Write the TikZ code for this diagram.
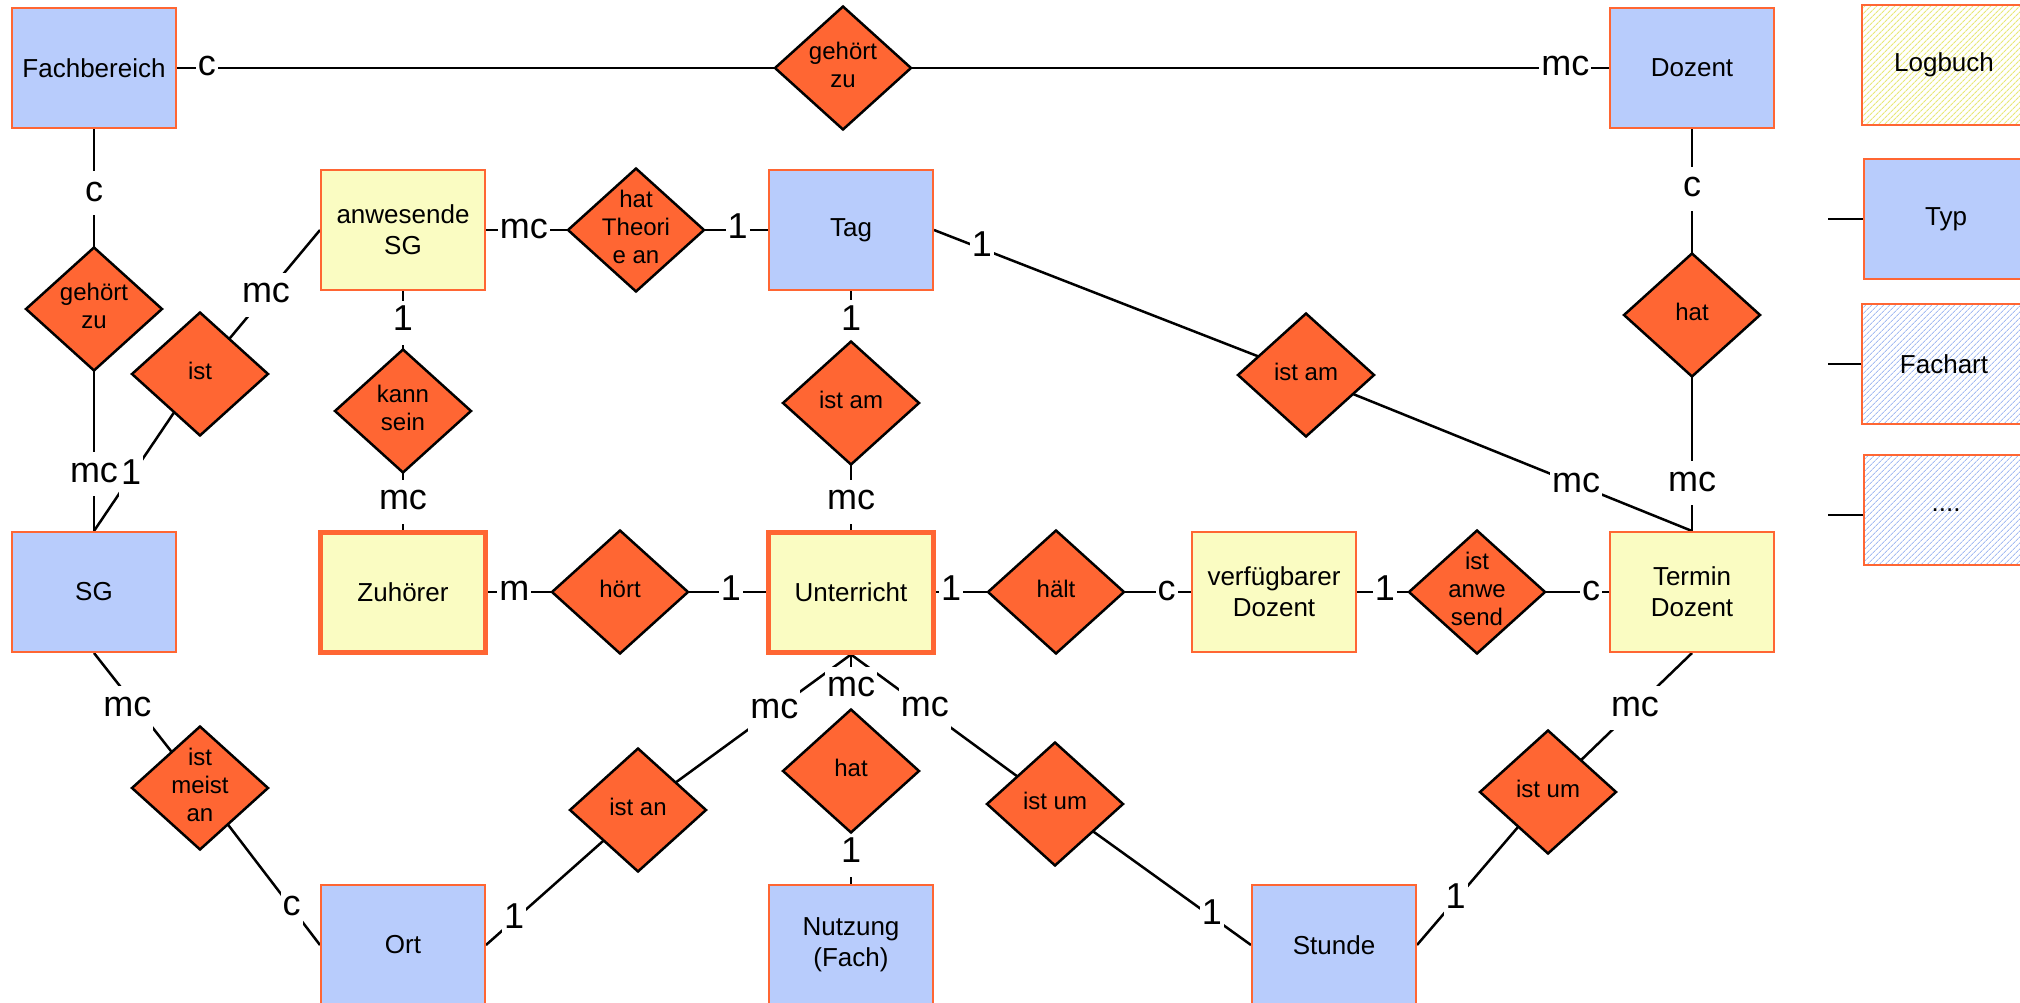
\documentclass[tikz,border=0pt]{standalone}
\usepackage{fontspec}
\setmainfont{Liberation Sans}
\usetikzlibrary{shapes.geometric,patterns.meta}
\definecolor{entblue}{RGB}{184,204,252}
\definecolor{entyellow}{RGB}{250,252,194}
\definecolor{orng}{RGB}{255,102,51}
\definecolor{hatchblue}{RGB}{165,188,242}
\definecolor{hatchyellow}{RGB}{232,232,120}
\pgfdeclarelayer{bg}
\pgfsetlayers{bg,main}
\newcommand{\dtext}[1]{\smash{\raisebox{-0.27em}{\begin{tabular}{@{}c@{}}#1\end{tabular}}}}
\begin{document}
\begin{tikzpicture}[x=1pt,y=-1pt,
  ent/.style={rectangle, draw=orng, line width=2pt, minimum width=164pt, minimum height=120pt, inner sep=2pt, align=center, font=\fontsize{26}{31}\selectfont},
  eblue/.style={ent, fill=entblue},
  eyel/.style={ent, fill=entyellow},
  heavy/.style={line width=5pt, minimum width=165pt, minimum height=120pt},
  hatchy/.style={ent, pattern={Lines[angle=45,distance=4pt,line width=1.1pt]}, pattern color=hatchyellow},
  hatchb/.style={ent, pattern={Lines[angle=45,distance=4pt,line width=1pt]}, pattern color=hatchblue},
  rel/.style={diamond, draw=black, line width=2.5pt, fill=orng, minimum width=137pt, minimum height=124pt, inner sep=0pt, font=\fontsize{24}{28}\selectfont},
  conn/.style={line width=2.5pt, draw=black},
  lab/.style={fill=white, inner xsep=2pt, inner ysep=5pt, text height=25pt, text depth=9pt, font=\fontsize{36}{40}\selectfont},
]
\useasboundingbox (0,0) rectangle (2020,1003);
\clip (0,0) rectangle (2020,1003);

% entities
\node[eblue] (fach) at (94,68) {Fachbereich};
\node[eblue] (doz) at (1692,68) {Dozent};
\node[eyel] (anw) at (403,230) {anwesende\\SG};
\node[eblue] (tag) at (851,230) {Tag};
\node[eblue] (sg) at (94,592) {SG};
\node[eyel,heavy] (zuh) at (403,592) {Zuhörer};
\node[eyel,heavy] (unt) at (851,592) {Unterricht};
\node[eyel] (vdoz) at (1274,592) {verfügbarer\\Dozent};
\node[eyel] (tdoz) at (1692,592) {Termin\\Dozent};
\node[eblue] (ort) at (403,945) {Ort};
\node[eblue] (nutz) at (851,945) {Nutzung\\(Fach)};
\node[eblue] (std) at (1334,945) {Stunde};

% legend
\node[hatchy] (logb) at (1944,65) {Logbuch};
\node[eblue] (typ) at (1946,219) {Typ};
\node[hatchb] (fart) at (1944,364) {Fachart};
\node[hatchb, minimum height=110pt] (etc) at (1946,510) {....};
\coordinate (ltyp) at (1828,219);
\coordinate (lfart) at (1828,364);
\coordinate (letc) at (1828,515);

% relationships
\node[rel] (gz1) at (843,68) {\dtext{gehört\\zu}};
\node[rel] (gz2) at (94,309) {\dtext{gehört\\zu}};
\node[rel] (ist) at (200,374) {\dtext{ist}};
\node[rel] (kann) at (403,411) {\dtext{kann\\sein}};
\node[rel] (htheo) at (636,230) {\dtext{hat\\Theori\\e an}};
\node[rel] (am1) at (851,403) {\dtext{ist am}};
\node[rel] (am2) at (1306,375) {\dtext{ist am}};
\node[rel] (hat1) at (1692,315) {\dtext{hat}};
\node[rel] (hoert) at (620,592) {\dtext{hört}};
\node[rel] (haelt) at (1056,592) {\dtext{hält}};
\node[rel] (anwd) at (1477,592) {\dtext{ist\\anwe\\send}};
\node[rel] (meist) at (200,788) {\dtext{ist\\meist\\an}};
\node[rel] (istan) at (638,810) {\dtext{ist an}};
\node[rel] (hat2) at (851,771) {\dtext{hat}};
\node[rel] (um1) at (1055,804) {\dtext{ist um}};
\node[rel] (um2) at (1548,792) {\dtext{ist um}};

\begin{pgfonlayer}{bg}
\fill[white] (0,0) rectangle (2020,1003);
\draw[conn] (fach.east) -- node[lab,pos=0.045]{c} (gz1.center) -- node[lab,pos=0.943]{mc} (doz.west);
\draw[conn] (fach.south) -- node[lab,pos=0.356]{c} (gz2.center) -- node[lab,pos=0.744]{mc} (sg.north);
\draw[conn] (sg.north) -- node[lab,pos=0.35]{1} (ist.center) -- node[lab,pos=0.55]{mc} (anw.west);
\draw[conn] (anw.east) -- node[lab,pos=0.253]{mc} (htheo.center) -- node[lab,pos=0.77]{1} (tag.west);
\draw[conn] (anw.south) -- node[lab,pos=0.264]{1} (kann.center) -- node[lab,pos=0.765]{mc} (zuh.north);
\draw[conn] (tag.south) -- node[lab,pos=0.277]{1} (am1.center) -- node[lab,pos=0.78]{mc} (unt.north);
\draw[conn] (tag.east) -- node[lab,pos=0.129]{1} (am2.center) -- node[lab,pos=0.70]{mc} (tdoz.north);
\draw[conn] (doz.south) -- node[lab,pos=0.32]{c} (hat1.center) -- node[lab,pos=0.78]{mc} (tdoz.north);
\draw[conn] (zuh.east) -- node[lab,pos=0.2]{m} (hoert.center) -- node[lab,pos=0.76]{1} (unt.west);
\draw[conn] (unt.east) -- node[lab,pos=0.125]{1} (haelt.center) -- node[lab,pos=0.82]{c} (vdoz.west);
\draw[conn] (vdoz.east) -- node[lab,pos=0.233]{1} (anwd.center) -- node[lab,pos=0.864]{c} (tdoz.west);
\draw[conn] (sg.south) -- node[lab,pos=0.41,xshift=-10pt]{mc} (meist.center) -- node[lab,pos=0.764]{c} (ort.west);
\draw[conn] (unt.south) -- node[lab,pos=0.36]{mc} (istan.center) -- node[lab,pos=0.815]{1} (ort.east);
\draw[conn] (unt.south) -- node[lab,pos=0.362]{mc} (um1.center) -- node[lab,pos=0.80]{1} (std.west);
\draw[conn] (nutz.north) -- node[lab,pos=0.257]{1} (hat2.center) -- node[lab,pos=0.707]{mc} (unt.south);
\draw[conn] (std.east) -- node[lab,pos=0.294]{1} (um2.center) -- node[lab,pos=0.604]{mc} (tdoz.south);
\draw[conn] (ltyp) -- (typ.west);
\draw[conn] (lfart) -- (fart.west);
\draw[conn] (letc) -- (letc -| etc.west);
\end{pgfonlayer}
\end{tikzpicture}
\end{document}
